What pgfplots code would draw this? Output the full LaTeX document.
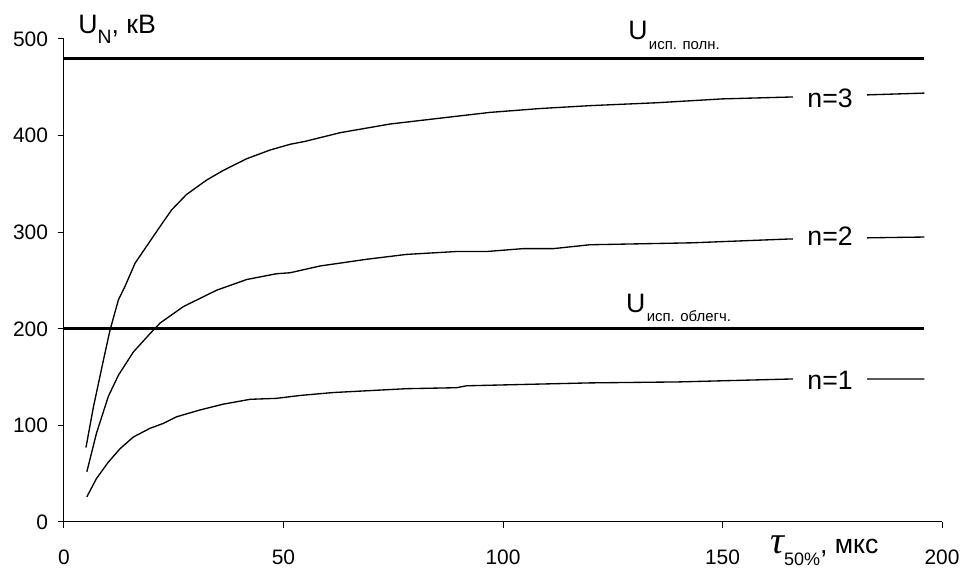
\documentclass[border=0pt]{standalone}
\usepackage{pgfplots}
\pgfplotsset{compat=1.18}
\usepackage{fontspec}
\setmainfont{Liberation Sans}
\newfontfamily\seriffont{Liberation Serif}
\begin{document}
\begin{tikzpicture}
\begin{axis}[name=ax, width=658.5pt, height=362.25pt, scale only axis,
  xmin=0, xmax=200, ymin=0, ymax=500,
  axis x line=bottom, axis y line=left,
  axis line style={-, line width=0.75pt},
  xtick={0,50,...,200}, ytick={0,100,...,500},
  tick align=outside, major tick length=4.5pt,
  tick style={line width=0.75pt, black},
  tick label style={font=\fontsize{15.7}{18}\selectfont},
  /pgf/number format/assume math mode=true,
  xticklabel style={yshift=-13pt}, yticklabel style={xshift=-4pt},
  clip=false]
\addplot[line width=2.5pt] coordinates {(0,480) (196,480)};
\addplot[line width=2.5pt] coordinates {(0,200) (196,200)};
% n=3
\addplot[line width=1pt] coordinates {
(5,77) (6.7,119) (9,168) (10.5,199) (12.4,230) (13.9,244) (16.2,268) (19.2,288)
(21.9,306) (24.5,323) (27.9,339) (32.5,354) (36.3,364) (41.6,376) (46.9,385)
(51.5,391) (54.9,394) (62.9,403) (74.3,412) (85.6,418) (97,424) (108.4,428)
(119.8,431) (135,434) (150,438) (166,440) (175,441) (196,444)};
% n=2
\addplot[line width=1pt] coordinates {
(5.2,52) (7.4,92) (10.1,130) (12.4,152) (15.8,176) (19.6,195) (21.9,206)
(27.2,223) (34.8,240) (41.6,251) (48.4,257) (51.5,258) (58.3,265) (69,272)
(78,277) (89.4,280) (96.3,280) (104.6,283) (111.5,283) (119.8,287) (143,289)
(165.4,293) (196,295)};
% n=1
\addplot[line width=1pt] coordinates {
(5.2,26) (7.4,45) (10.1,62) (12.8,76) (15.8,88) (19.6,97) (22.6,102) (25.7,109)
(31,116) (36.3,122) (42.4,127) (48.4,128) (53.8,131) (61.3,134) (78,138)
(89.4,139) (91.7,141) (119.8,144) (140,145) (165.4,148) (196,148)};
\node[fill=white, inner xsep=10.5pt, inner ysep=1pt, font=\fontsize{20}{22}\selectfont] at (axis cs:174.5,439) {n=3};
\node[fill=white, inner xsep=10.5pt, inner ysep=1pt, font=\fontsize{20}{22}\selectfont] at (axis cs:174.5,296) {n=2};
\node[fill=white, inner xsep=10.5pt, inner ysep=1pt, font=\fontsize{20}{22}\selectfont] at (axis cs:174.5,147) {n=1};
\node[anchor=base west, inner sep=0, font=\fontsize{20}{22}\selectfont] at (axis cs:128.5,499)
  {U\kern1pt\raisebox{-7pt}{\fontsize{11.2}{13}\selectfont исп. полн.}};
\node[anchor=base west, inner sep=0, font=\fontsize{20}{22}\selectfont] at (axis cs:128,217)
  {U\kern1pt\raisebox{-7pt}{\fontsize{11.2}{13}\selectfont исп. облегч.}};
\node[anchor=base west, inner sep=0, font=\fontsize{20}{22}\selectfont] at (axis cs:3.2,506)
  {U\raisebox{-7.5pt}{\fontsize{14.5}{16}\selectfont N}, кВ};
\node[anchor=base west, inner sep=0, font=\fontsize{20}{22}\selectfont] at (axis cs:160.8,-33)
  {{\seriffont\itshape\fontsize{29}{31}\selectfont τ}\raisebox{-8.5pt}{\fontsize{13.5}{15}\selectfont 50\%}, мкс};
\end{axis}
\pgfresetboundingbox
\path[use as bounding box] ([xshift=-48pt,yshift=-35.25pt]ax.south west) rectangle ([xshift=15.75pt,yshift=29.25pt]ax.north east);
\end{tikzpicture}
\end{document}
